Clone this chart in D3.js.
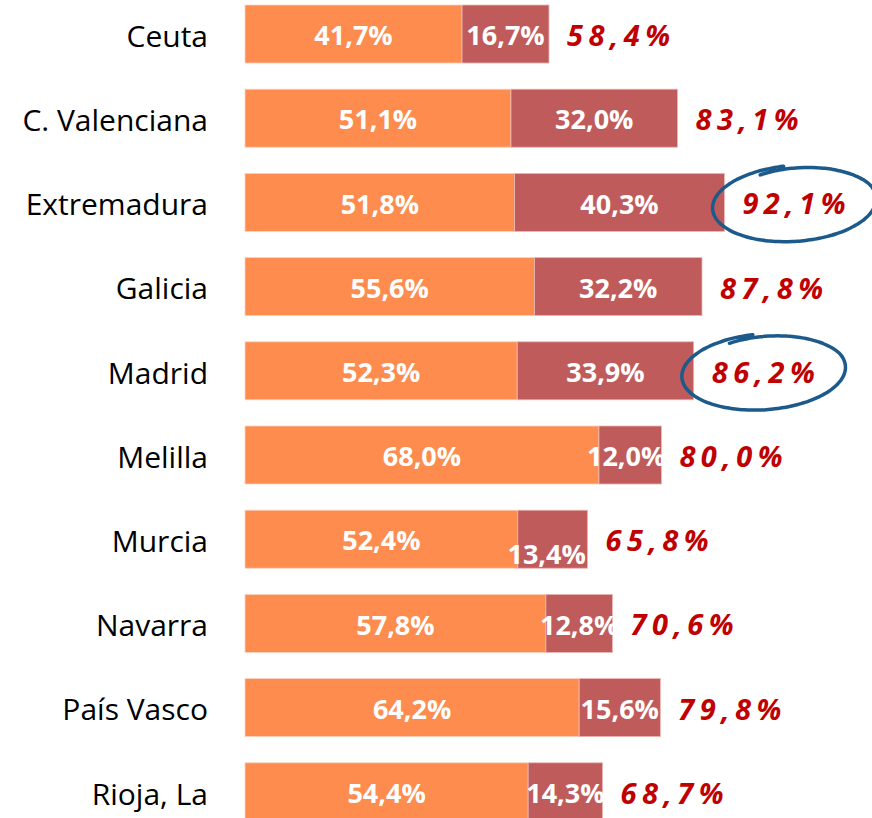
<!DOCTYPE html>
<html><head><meta charset="utf-8">
<script src="https://cdn.jsdelivr.net/npm/d3@7/dist/d3.min.js"></script>
<style>html,body{margin:0;padding:0;background:#fff;}</style>
</head><body>
<svg id="chart" width="872" height="818"></svg>
<script>
const categories = ["Ceuta","C. Valenciana","Extremadura","Galicia","Madrid","Melilla","Murcia","Navarra","País Vasco","Rioja, La"];
const seriesA = [41.7,51.1,51.8,55.6,52.3,68.0,52.4,57.8,64.2,54.4];
const seriesB = [16.7,32.0,40.3,32.2,33.9,12.0,13.4,12.8,15.6,14.3];
const totals  = [58.4,83.1,92.1,87.8,86.2,80.0,65.8,70.6,79.8,68.7];
const highlighted = ["Extremadura","Madrid"];

const fmt = v => v.toFixed(1).replace(".", ",") + "%";
const svg = d3.select("#chart");
const step = 84.2, pi = 0.311;
const r0 = 5 - step*pi/2;
const y = d3.scaleBand().domain(categories).range([r0, r0 + step*categories.length]).paddingInner(pi).paddingOuter(pi/2);
const x = d3.scaleLinear().domain([0,100]).range([245, 245+520.5]);

const rows = svg.selectAll("g.row").data(categories).join("g").attr("class","row");

rows.append("rect")
  .attr("x", (d,i)=>x(0)).attr("y", d=>y(d))
  .attr("width",(d,i)=>x(seriesA[i])-x(0)).attr("height", y.bandwidth())
  .attr("fill","#fd8c4e").attr("stroke","#fbd3c0").attr("stroke-width",0.8);
rows.append("rect")
  .attr("x", (d,i)=>x(seriesA[i])).attr("y", d=>y(d))
  .attr("width",(d,i)=>x(seriesA[i]+seriesB[i])-x(seriesA[i])).attr("height", y.bandwidth())
  .attr("fill","#c05b5c").attr("stroke","#eab7b3").attr("stroke-width",0.8);

// category labels
rows.append("text")
  .attr("x", 208).attr("y", d=>y(d)+y.bandwidth()/2 + 2)
  .attr("dy","0.36em").attr("text-anchor","end")
  .attr("font-family","'Open Sans', sans-serif").attr("font-size",30)
  .attr("fill","#000").text(d=>d);

// segment labels
rows.append("text")
  .attr("x",(d,i)=>(x(0)+x(seriesA[i]))/2).attr("y", d=>y(d)+y.bandwidth()/2 + 1.5)
  .attr("dy","0.36em").attr("text-anchor","middle")
  .attr("font-family","'Open Sans', sans-serif").attr("font-weight","bold").attr("font-size",27)
  .attr("fill","#fff").text((d,i)=>fmt(seriesA[i]));
rows.append("text")
  .attr("x",(d,i)=>(x(seriesA[i])+x(seriesA[i]+seriesB[i]))/2 - (d==="Murcia"?6:0) - (d==="Melilla"?4:0))
  .attr("y", d=>y(d)+y.bandwidth()/2 + 1.5 + (d==="Murcia"?14:0))
  .attr("dy","0.36em").attr("text-anchor","middle")
  .attr("font-family","'Open Sans', sans-serif").attr("font-weight","bold").attr("font-size",27)
  .attr("fill","#fff").text((d,i)=>fmt(seriesB[i]));

// totals
rows.append("text")
  .attr("x",(d,i)=>x(totals[i])+18).attr("y", d=>y(d)+y.bandwidth()/2 + 1.5)
  .attr("dy","0.36em").attr("text-anchor","start")
  .attr("font-family","'Noto Sans', sans-serif").attr("font-style","italic").attr("font-weight","bold").attr("font-size",29)
  .attr("letter-spacing",5.5)
  .attr("fill","#c00000").text((d,i)=>fmt(totals[i]));

// hand-drawn ellipses
highlighted.forEach(cat=>{
  const i = categories.indexOf(cat);
  const cx = x(totals[i]) + 18 + 52, cy = y(cat)+y.bandwidth()/2 + 1;
  const rx = 82, ry = 38, rot = -4*Math.PI/180;
  const pts = [];
  const a0 = -Math.PI/2 - 0.45, span = 2*Math.PI + 0.35;
  for (let k=0;k<=120;k++){
    const t = k/120, a = a0 + span*t;
    const s = 0.9 + 0.1*Math.min(1,t*4);
    const ex = rx*s*Math.cos(a), ey = ry*s*Math.sin(a);
    pts.push([cx + ex*Math.cos(rot) - ey*Math.sin(rot), cy + ex*Math.sin(rot) + ey*Math.cos(rot)]);
  }
  svg.append("path").attr("d", d3.line().curve(d3.curveBasis)(pts))
    .attr("fill","none").attr("stroke","#1c5a8c").attr("stroke-width",3.5).attr("stroke-linecap","round");
});
</script>
</body></html>
